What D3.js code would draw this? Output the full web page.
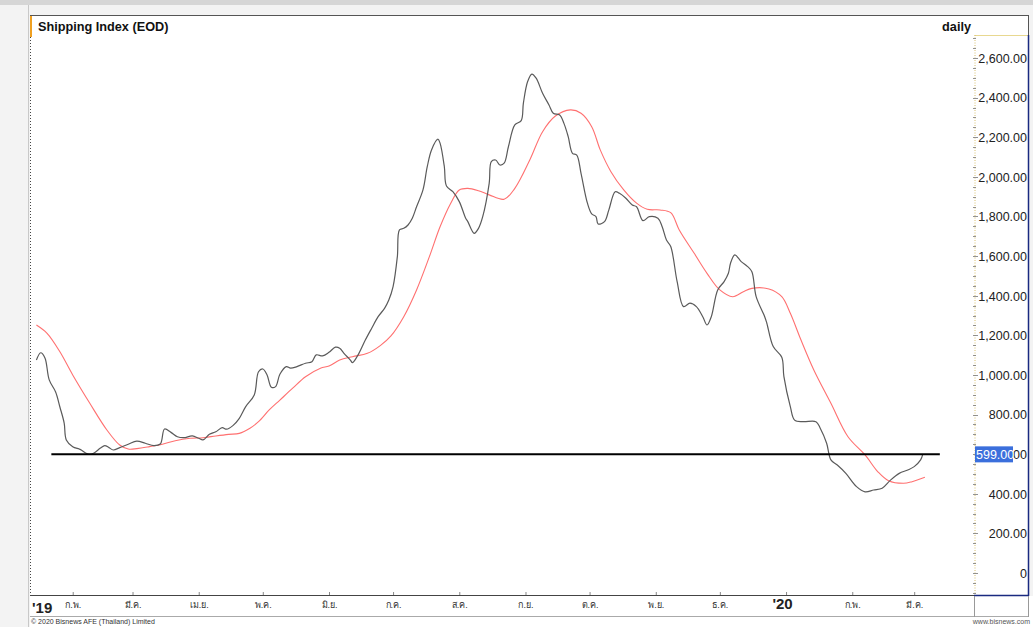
<!DOCTYPE html>
<html><head><meta charset="utf-8">
<script src="https://cdn.jsdelivr.net/npm/d3@7"></script>
<style>
body{margin:0;background:#fff;}
svg{display:block;font-family:"Liberation Sans",Arial,sans-serif;}
</style></head>
<body>
<svg id="c" width="1033" height="627"></svg>
<script>
// ---- data ----
const indexSeries = [
["2019-01-15",1075],["2019-01-17",1112],["2019-01-19",1086],["2019-01-21",975],["2019-01-24",914],["2019-01-26",838],
["2019-01-28",757],["2019-01-29",672],["2019-02-01",638],["2019-02-04",626],["2019-02-05",621],["2019-02-07",606],
["2019-02-09",599],["2019-02-11",606],["2019-02-14",631],["2019-02-16",643],["2019-02-18",633],["2019-02-20",621],
["2019-02-23",633],["2019-02-27",650],["2019-03-03",666],["2019-03-07",655],["2019-03-11",643],["2019-03-14",651],
["2019-03-16",727],["2019-03-19",710],["2019-03-22",688],["2019-03-25",683],["2019-03-29",692],["2019-04-01",680],
["2019-04-03",672],["2019-04-06",700],["2019-04-09",713],["2019-04-12",734],["2019-04-14",726],["2019-04-17",744],
["2019-04-20",781],["2019-04-23",840],["2019-04-27",899],["2019-04-29",1016],["2019-05-01",1030],["2019-05-03",1000],
["2019-05-05",938],["2019-05-07",941],["2019-05-09",1003],["2019-05-12",1042],["2019-05-14",1034],["2019-05-17",1042],
["2019-05-21",1059],["2019-05-24",1067],["2019-05-26",1101],["2019-05-29",1096],["2019-06-01",1114],["2019-06-04",1140],
["2019-06-06",1135],["2019-06-08",1109],["2019-06-11",1075],["2019-06-12",1062],["2019-06-15",1109],["2019-06-18",1176],
["2019-06-21",1236],["2019-06-24",1294],["2019-06-27",1336],["2019-06-29",1378],["2019-07-01",1446],["2019-07-03",1597],
["2019-07-04",1732],["2019-07-06",1740],["2019-07-08",1757],["2019-07-10",1791],["2019-07-12",1849],["2019-07-15",1934],
["2019-07-17",2051],["2019-07-19",2136],["2019-07-22",2190],["2019-07-23",2170],["2019-07-25",2051],["2019-07-26",1954],
["2019-07-29",1925],["2019-08-01",1875],["2019-08-04",1791],["2019-08-05",1774],["2019-08-08",1715],["2019-08-10",1740],
["2019-08-12",1800],["2019-08-15",1967],["2019-08-16",2077],["2019-08-18",2085],["2019-08-20",2060],["2019-08-22",2069],
["2019-08-24",2152],["2019-08-27",2262],["2019-08-30",2284],["2019-08-31",2371],["2019-09-02",2481],["2019-09-04",2519],
["2019-09-06",2498],["2019-09-09",2422],["2019-09-12",2363],["2019-09-14",2321],["2019-09-17",2312],["2019-09-19",2270],
["2019-09-21",2203],["2019-09-23",2119],["2019-09-25",2110],["2019-09-27",2018],["2019-09-30",1867],["2019-10-02",1813],
["2019-10-04",1799],["2019-10-05",1762],["2019-10-08",1774],["2019-10-10",1832],["2019-10-13",1925],["2019-10-15",1917],
["2019-10-18",1892],["2019-10-21",1858],["2019-10-23",1849],["2019-10-26",1779],["2019-10-29",1799],["2019-11-02",1791],
["2019-11-04",1748],["2019-11-06",1681],["2019-11-08",1648],["2019-11-11",1471],["2019-11-14",1345],["2019-11-17",1362],
["2019-11-20",1345],["2019-11-23",1294],["2019-11-25",1252],["2019-11-27",1294],["2019-11-30",1429],["2019-12-03",1471],
["2019-12-05",1513],["2019-12-06",1564],["2019-12-08",1606],["2019-12-11",1572],["2019-12-14",1547],["2019-12-16",1521],
["2019-12-18",1395],["2019-12-22",1294],["2019-12-23",1261],["2019-12-26",1143],["2019-12-30",1089],["2019-12-31",991],
["2020-01-03",840],["2020-01-05",772],["2020-01-09",764],["2020-01-15",764],["2020-01-17",731],["2020-01-20",655],
["2020-01-22",571],["2020-01-25",545],["2020-01-29",503],["2020-02-03",436],["2020-02-07",410],["2020-02-11",419],
["2020-02-15",428],["2020-02-19",470],["2020-02-23",503],["2020-02-27",520],["2020-03-01",537],["2020-03-04",571],
["2020-03-05",599]
];
const avgSeries = [
["2019-01-15",1252],["2019-01-20",1210],["2019-01-26",1117],["2019-02-01",1000],["2019-02-09",857],["2019-02-17",722],
["2019-02-23",646],["2019-02-27",626],["2019-03-03",628],["2019-03-09",638],["2019-03-15",650],["2019-03-21",668],
["2019-03-28",680],["2019-04-03",683],["2019-04-09",692],["2019-04-15",700],["2019-04-20",705],["2019-04-25",731],
["2019-04-29",764],["2019-05-04",823],["2019-05-09",873],["2019-05-15",933],["2019-05-21",991],["2019-05-28",1034],
["2019-06-01",1045],["2019-06-06",1075],["2019-06-12",1092],["2019-06-19",1109],["2019-06-25",1148],["2019-06-30",1197],
["2019-07-06",1294],["2019-07-12",1429],["2019-07-18",1597],["2019-07-23",1748],["2019-07-28",1867],["2019-08-01",1934],
["2019-08-05",1942],["2019-08-10",1930],["2019-08-15",1909],["2019-08-22",1887],["2019-08-27",1942],["2019-09-03",2085],
["2019-09-09",2228],["2019-09-15",2307],["2019-09-22",2338],["2019-09-27",2321],["2019-10-02",2253],["2019-10-06",2136],
["2019-10-11",2026],["2019-10-17",1934],["2019-10-23",1867],["2019-10-28",1836],["2019-11-03",1833],["2019-11-08",1819],
["2019-11-12",1732],["2019-11-19",1614],["2019-11-25",1513],["2019-12-01",1429],["2019-12-07",1395],["2019-12-12",1420],
["2019-12-16",1437],["2019-12-24",1434],["2019-12-30",1395],["2020-01-03",1311],["2020-01-08",1176],["2020-01-14",1025],
["2020-01-22",857],["2020-01-30",688],["2020-02-07",596],["2020-02-13",511],["2020-02-18",466],["2020-02-25",453],
["2020-02-29",461],["2020-03-06",483]
];
const levelLine = [["2019-01-22",599],["2020-03-13",599]];
const lastValue = 599;
const yTickValues = [0,200,400,600,800,1000,1200,1400,1600,1800,2000,2200,2400,2600];
const monthTickDates = ["2019-02-01","2019-03-01","2019-04-01","2019-05-01","2019-06-01","2019-07-01","2019-08-01",
  "2019-09-01","2019-10-01","2019-11-01","2019-12-01","2020-01-01","2020-02-01","2020-03-01"];
const monthTickLabels = ["ก.พ.","มี.ค.","เม.ย.","พ.ค.","มิ.ย.","ก.ค.","ส.ค.","ก.ย.","ต.ค.","พ.ย.","ธ.ค.","'20","ก.พ.","มี.ค."];
const firstYearLabel = "'19";
const titleText = "Shipping Index (EOD)";
const periodText = "daily";
const copyrightText = "© 2020 Bisnews AFE (Thailand) Limited";
const siteText = "www.bisnews.com";

// ---- drawing ----
const parse = d3.timeParse("%Y-%m-%d");
const svg = d3.select("#c");
const L = 30, R = 974, T = 35, B = 596, RP = 1028;

// frame backgrounds
svg.append("rect").attr("x",0).attr("y",0).attr("width",1033).attr("height",627).attr("fill","#f3f3f3");
svg.append("rect").attr("x",0).attr("y",0).attr("width",1033).attr("height",5).attr("fill","#d6d6d6");
svg.append("rect").attr("x",L).attr("y",15).attr("width",RP-L).attr("height",B-15).attr("fill","#fff");
svg.append("rect").attr("x",L).attr("y",B).attr("width",1033-L).attr("height",627-B).attr("fill","#fff");
svg.append("line").attr("x1",28.5).attr("x2",28.5).attr("y1",5).attr("y2",627).attr("stroke","#c8c8c8");
// top border
svg.append("line").attr("x1",L).attr("x2",RP+0.5).attr("y1",15.5).attr("y2",15.5).attr("stroke","#555");
svg.append("line").attr("x1",RP+0.5).attr("x2",RP+0.5).attr("y1",15).attr("y2",T).attr("stroke","#555");
// left border: orange marker then dotted
svg.append("line").attr("x1",L+1).attr("x2",L+1).attr("y1",16).attr("y2",37).attr("stroke","#f0a020").attr("stroke-width",2);
svg.append("line").attr("x1",L+0.5).attr("x2",L+0.5).attr("y1",37).attr("y2",B).attr("stroke","#444").attr("stroke-dasharray","1,2");

const x = d3.scaleTime().domain([parse("2019-01-12"), parse("2020-03-29")]).range([L, R]);
const y = d3.scaleLinear().domain([0, 2600]).range([573, 58]);

// right axis panel
svg.append("line").attr("x1",R+0.5).attr("x2",RP).attr("y1",T+0.5).attr("y2",T+0.5).attr("stroke","#e8d890");
svg.append("line").attr("x1",R+1).attr("x2",R+1).attr("y1",T).attr("y2",B).attr("stroke","#d8c070").attr("stroke-dasharray","1,1.5");
svg.append("line").attr("x1",RP+0.5).attr("x2",RP+0.5).attr("y1",T).attr("y2",B).attr("stroke","#1a2a80").attr("stroke-width",1.5);
svg.append("line").attr("x1",R).attr("x2",RP+1).attr("y1",B-0.5).attr("y2",B-0.5).attr("stroke","#1a2a80").attr("stroke-width",1.5);

const minorTicks = d3.range(-100, 2701, 50);
svg.append("g").selectAll("line").data(minorTicks).join("line")
  .attr("x1", R-1).attr("x2", d => yTickValues.includes(d) ? R+4 : R+2)
  .attr("y1", d => Math.round(y(d))+0.5).attr("y2", d => Math.round(y(d))+0.5)
  .attr("stroke","#777").attr("stroke-width",0.8);

const yAxis = d3.axisRight(y).tickValues(yTickValues).tickSize(0).tickPadding(0)
  .tickFormat(d => d === 0 ? "0" : d3.format(",.2f")(d));
const yg = svg.append("g").attr("transform", `translate(${RP-1},0)`).call(yAxis);
yg.select(".domain").remove();
yg.selectAll("text").attr("text-anchor","end").attr("x",0).attr("dy","0.35em")
  .attr("font-size","12.5px").attr("fill","#222");

// bottom axis strip
svg.append("line").attr("x1",L).attr("x2",R).attr("y1",B-0.5).attr("y2",B-0.5).attr("stroke","#444").attr("stroke-width",1.2);
svg.append("line").attr("x1",L).attr("x2",RP+1).attr("y1",616.5).attr("y2",616.5).attr("stroke","#aaa");
svg.append("line").attr("x1",R+0.5).attr("x2",R+0.5).attr("y1",B).attr("y2",617).attr("stroke","#999");
svg.append("line").attr("x1",RP+0.5).attr("x2",RP+0.5).attr("y1",B).attr("y2",617).attr("stroke","#999");

const tickDates = monthTickDates.map(parse);
const xAxis = d3.axisBottom(x).tickValues(tickDates).tickSize(3).tickFormat((d,i) => monthTickLabels[i]);
const xg = svg.append("g").attr("transform", `translate(0,${B-4})`).call(xAxis);
xg.select(".domain").remove();
xg.selectAll(".tick line").attr("stroke","#888");
xg.selectAll(".tick text").attr("y",16).attr("dy","0")
  .attr("font-size", (d,i) => monthTickLabels[i].startsWith("'") ? "15px" : "9px")
  .attr("font-weight", (d,i) => monthTickLabels[i].startsWith("'") ? "bold" : "normal")
  .attr("fill", (d,i) => monthTickLabels[i].startsWith("'") ? "#222" : "#333")
  .attr("transform", (d,i) => monthTickLabels[i].startsWith("'") ? "translate(-4,1)" : null);
svg.append("text").attr("x", L+2).attr("y", 613).attr("font-size","15px").attr("font-weight","bold")
  .attr("fill","#222").text(firstYearLabel);

// title texts
svg.append("text").attr("x",38).attr("y",31).attr("font-size","12.7px").attr("font-weight","bold").attr("fill","#111").text(titleText);
svg.append("text").attr("x",971).attr("y",31).attr("text-anchor","end").attr("font-size","12.7px").attr("font-weight","bold").attr("fill","#111").text(periodText);

// footer
svg.append("text").attr("x",31).attr("y",624).attr("font-size","7px").attr("fill","#333").text(copyrightText);
svg.append("text").attr("x",1030).attr("y",624).attr("text-anchor","end").attr("font-size","7px").attr("fill","#555").text(siteText);

// series
const line = d3.line().x(d => x(parse(d[0]))).y(d => y(d[1])).curve(d3.curveCatmullRom.alpha(0.5));
svg.append("path").attr("d", line(avgSeries)).attr("fill","none").attr("stroke","#ff7070").attr("stroke-width",1.1);
svg.append("path").attr("d", line(indexSeries)).attr("fill","none").attr("stroke","#5a5a5a").attr("stroke-width",1.2);

// horizontal level
svg.append("path").attr("d", d3.line().x(d => x(parse(d[0]))).y(d => y(d[1]))(levelLine))
  .attr("stroke","#000").attr("stroke-width",2).attr("fill","none");

// last value marker
const ly = y(lastValue);
svg.append("rect").attr("x",R+1).attr("y",ly-8).attr("width",38).attr("height",16).attr("fill","#3b6fdc");
svg.append("text").attr("x",R+2).attr("y",ly).attr("dy","0.35em").attr("font-size","12.5px").attr("fill","#fff")
  .text(d3.format(".2f")(lastValue));
</script>
</body></html>
